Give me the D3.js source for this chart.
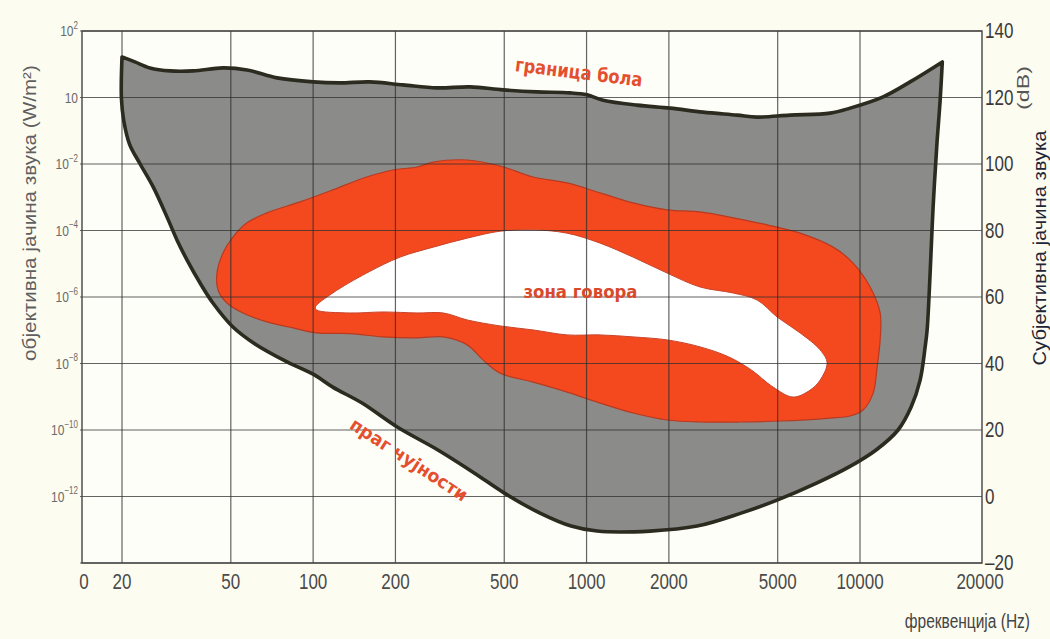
<!DOCTYPE html>
<html>
<head>
<meta charset="utf-8">
<script src="https://cdn.jsdelivr.net/npm/d3@7/dist/d3.min.js"></script>
<style>
  html, body { margin: 0; padding: 0; background: #fdfcf1; }
  svg { display: block; }
  text { font-family: "Liberation Sans", Arial, sans-serif; }
</style>
</head>
<body>
<svg id="chart" width="1050" height="639"></svg>
<script>
// ---------------- DATA ----------------
// frequency ticks (Hz) with vertical grid lines
const freqTicks = [20, 50, 100, 200, 500, 1000, 2000, 5000, 10000];
const freqEdgeLabels = ["0", "20000"];
// subjective loudness ticks (dB)
const dbTicks = [140, 120, 100, 80, 60, 40, 20, 0, -20];
// objective intensity labels (W/m²) at 140..0 dB
const intensityBase = "10";
const intensitySup = ["2", "", "-2", "-4", "-6", "-8", "-10", "-12"];

// pain threshold ("граница бола"), [Hz, dB]
const painLimit = [
  [20,132.2],[22.3,130.7],[25.3,128.9],[30,128],[36.4,128],[46.8,128.9],[57.3,128.3],
  [73.8,125.9],[100,124.7],[125,124.4],[161,124.7],[213,123.8],[284,122.9],[375,123.2],
  [495,122.3],[659,121.7],[870,121.4],[1004,120.8],[1149,119.2],[1530,117.7],[2020,116.8],
  [2668,115.6],[3552,114.7],[4204,114.1],[5550,114.7],[7776,115.3],[9200,116.8],
  [12150,120.2],[15250,124.7],[20000,130.7]
];
// hearing threshold ("праг чујности"), [Hz, dB], left top → right top
const hearingThreshold = [
  [20,132.2],[19.9,119.8],[20.3,113],[21.3,106],[23.3,100],[26,93.1],[29.2,84.1],
  [31.8,77.1],[34.6,71.1],[38.6,64.2],[43,58.2],[50.9,51],[61.3,45.9],[80.3,40.5],
  [100,36.8],[118,32.9],[151,28.1],[203,20.9],[286,14],[388,7.1],[499,1.1],[676,-5],
  [878,-8.9],[1093,-10.4],[1707,-10.4],[2536,-8.9],[3674,-5],[4974,-1.1],[6966,4.1],
  [9122,8.9],[11450,14],[13780,20],[15380,26.9],[16590,35],[17310,45],[17600,50.1],
  [18050,67.2],[18510,87.1],[19150,107.2],[19640,119.2],[20000,130.7]
];
// speech zone outer contour ("зона говора"), [Hz, dB]
const speechOuter = [
  [44.5,67.2],[46.8,73.2],[50.9,78],[57.3,82.3],[67.8,85.3],[89.6,88.6],[118,92.2],
  [157,96.1],[196,98.2],[240,99.1],[275,100.6],[366,101.2],[483,99.4],[637,96.1],
  [849,94.3],[1121,91.3],[1479,88.3],[1970,86.2],[2602,85.6],[3435,83.8],[4574,81.7],
  [6040,79.2],[7975,75],[9434,70.2],[10890,63],[11850,55.2],[11850,47.1],[11550,38.9],
  [11170,31.1],[10264,26],[9200,24.2],[7776,23.6],[5102,22.7],[3642,22.4],[2602,22.4],
  [1970,23],[1479,25.1],[1121,28.1],[849,31.4],[637,34.4],[483,37.1],[418,41.1],
  [366,45.6],[299,48],[240,47.7],[180,48],[136,49],[103,49.2],[84.4,50.7],[67.8,52.5],
  [55.4,55.2],[48.4,58.2],[44.9,62.1]
];
// speech zone inner (white) contour, [Hz, dB]
const speechInner = [
  [102,57],[118,61.2],[157,67.2],[208,72],[275,75],[366,77.7],[483,79.8],[637,80.2],
  [849,79.2],[1121,76.2],[1479,72],[1970,67.2],[2602,63],[3435,61.2],[4204,59.1],
  [4975,54],[6040,49.2],[7146,44.1],[7578,40.2],[7146,35],[6572,32],[5692,29.9],
  [4810,32.9],[4014,38],[3306,42],[2602,45],[1970,47.1],[1479,48],[1121,48.6],
  [849,48.6],[637,50.1],[483,51.3],[366,53.1],[299,55.2],[240,55.2],[180,55.5],
  [136,55.2],[103,56.1]
];
// annotation anchors [Hz, dB]
const painLabel = { text: "граница бола", at: [931, 127.4] };
const speechLabel = { text: "зона говора", at: [950, 61.5] };
const thresholdLabel = { text: "праг чујности", at: [218, 11.3] };

// ---------------- LAYOUT ----------------
const W = 1050, H = 639;
const frame = { left: 82, right: 982, top: 31, bottom: 563 };
const svg = d3.select("#chart");

const x = d3.scaleLog().domain([20, 10000]).range([122, 860]);
const y = d3.scaleLinear().domain([-20, 140]).range([frame.bottom, frame.top]);

svg.append("rect").attr("width", W).attr("height", H).attr("fill", "#fdfcf1");
svg.append("rect").attr("x", frame.left).attr("y", frame.top)
  .attr("width", frame.right - frame.left).attr("height", frame.bottom - frame.top)
  .attr("fill", "#fefef8");

const openLine = d3.line().x(d => x(d[0])).y(d => y(d[1])).curve(d3.curveCatmullRom.alpha(0.5));
const closedLine = d3.line().x(d => x(d[0])).y(d => y(d[1])).curve(d3.curveCatmullRomClosed.alpha(0.5));

const topD = openLine(painLimit);
const botD = openLine(hearingThreshold.slice().reverse());
const areaD = topD + botD.replace(/^M/, "L") + "Z";

// grey audible area
svg.append("path").attr("d", areaD).attr("fill", "#8b8b89");
// speech zone
svg.append("path").attr("d", closedLine(speechOuter))
  .attr("fill", "#f4491f").attr("stroke", "#b83a20").attr("stroke-width", 1.2);
svg.append("path").attr("d", closedLine(speechInner))
  .attr("fill", "#ffffff").attr("stroke", "#c8442a").attr("stroke-width", 1);

// grid
const grid = svg.append("g").attr("stroke", "#2f2f2f").attr("stroke-opacity", 0.75).attr("stroke-width", 1.2);
grid.selectAll("line.v").data(freqTicks).join("line")
  .attr("x1", d => x(d)).attr("x2", d => x(d))
  .attr("y1", frame.top).attr("y2", frame.bottom);
grid.selectAll("line.h").data(dbTicks).join("line")
  .attr("x1", frame.left - 2).attr("x2", frame.right)
  .attr("y1", d => y(d)).attr("y2", d => y(d));
svg.append("rect").attr("x", frame.left).attr("y", frame.top)
  .attr("width", frame.right - frame.left).attr("height", frame.bottom - frame.top)
  .attr("fill", "none").attr("stroke", "#444").attr("stroke-width", 1.4);

// outline of audible area
svg.append("path").attr("d", areaD).attr("fill", "none")
  .attr("stroke", "#2b2b20").attr("stroke-width", 3.6).attr("stroke-linejoin", "round");

// ---------------- TEXT ----------------
function stext(px, py, str, o) {
  const t = svg.append("text")
    .attr("transform", `translate(${px},${py}) rotate(${o.rot || 0}) scale(${o.sx || 1},${o.sy || 1})`)
    .attr("text-anchor", o.anchor || "middle")
    .attr("font-size", o.size)
    .attr("font-weight", o.weight || "normal")
    .attr("fill", o.fill)
    .text(str);
  if (o.family) t.style("font-family", o.family);
  return t;
}
// text fitted to a target width (reference glyphs are stretched)
function fit(px, py, str, o, target) {
  const t = stext(px, py, str, o);
  const len = t.node().getComputedTextLength();
  t.attr("transform", `translate(${px},${py}) rotate(${o.rot || 0}) scale(${target / len},${o.sy || 1})`);
  return t;
}

// bottom tick labels
freqTicks.forEach(f => stext(x(f), 589, String(f), { size: 17, sy: 1.3, fill: "#4a4a4a" }));
stext(frame.left + 2, 589, freqEdgeLabels[0], { size: 17, sy: 1.3, fill: "#4a4a4a" });
stext(frame.right - 2, 589, freqEdgeLabels[1], { size: 17, sy: 1.3, fill: "#4a4a4a" });

// right tick labels (dB)
dbTicks.forEach(d => stext(frame.right + 3, y(d) + 7, d < 0 ? "–" + Math.abs(d) : String(d),
  { size: 17, sy: 1.3, anchor: "start", fill: "#3a3a3a" }));

// left tick labels (W/m²)
intensitySup.forEach((s, i) => {
  const t = svg.append("text")
    .attr("transform", `translate(${frame.left - 4},${y(dbTicks[i]) + 5}) scale(1,1.25)`)
    .attr("text-anchor", "end").attr("font-size", 12).attr("fill", "#6a6a6a");
  t.append("tspan").text(intensityBase);
  if (s) t.append("tspan").attr("font-size", 8).attr("dy", -6).text(s.replace("-", "−"));
});

// axis titles
fit(36, 213, "објективна јачина звука (W/m²)", { size: 18, fill: "#5f5f5f", rot: -90 }, 296);
fit(1046, 248, "Субјективна јачина звука", { size: 19, fill: "#1f2635", rot: -90 }, 235);
fit(1029, 88, "(dB)", { size: 17, fill: "#555", rot: -90 }, 44);
stext(1030, 628, "фреквенција (Hz)", { size: 15.5, sy: 1.3, anchor: "end", fill: "#444" });

// annotations
const annFont = "'DejaVu Sans', 'Liberation Sans', sans-serif";
fit(x(painLabel.at[0]), y(painLabel.at[1]) + 6, painLabel.text,
  { size: 16, weight: "bold", sy: 1.2, rot: 7, fill: "#e4502f", family: annFont }, 128);
fit(x(speechLabel.at[0]), y(speechLabel.at[1]) + 6, speechLabel.text,
  { size: 15, weight: "bold", sy: 1.15, fill: "#d9492c", family: annFont }, 114);
fit(x(thresholdLabel.at[0]), y(thresholdLabel.at[1]) + 6, thresholdLabel.text,
  { size: 15, weight: "bold", sy: 1.2, rot: 33, fill: "#e4502f", family: annFont }, 136);
</script>
</body>
</html>
